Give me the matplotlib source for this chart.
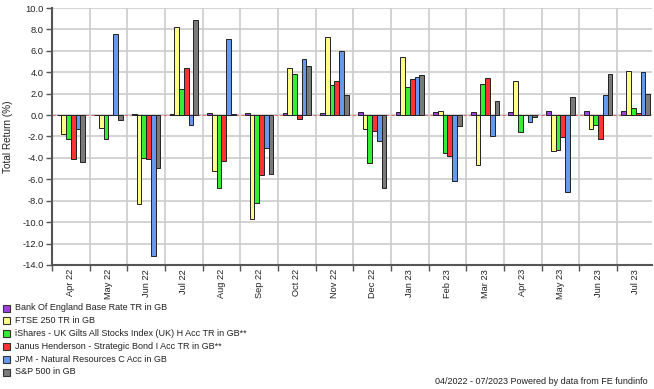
import matplotlib
matplotlib.use("Agg")
import matplotlib.pyplot as plt
from matplotlib.patches import Rectangle
import numpy as np

plt.rcParams['font.family'] = ['Liberation Sans', 'DejaVu Sans']

months = ["Apr 22", "May 22", "Jun 22", "Jul 22", "Aug 22", "Sep 22", "Oct 22", "Nov 22",
          "Dec 22", "Jan 23", "Feb 23", "Mar 23", "Apr 23", "May 23", "Jun 23", "Jul 23"]

series_names = [
    "Bank Of England Base Rate TR in GB",
    "FTSE 250 TR in GB",
    "iShares - UK Gilts All Stocks Index (UK) H Acc TR in GB**",
    "Janus Henderson - Strategic Bond I Acc TR in GB**",
    "JPM - Natural Resources C Acc in GB",
    "S&P 500 in GB",
]

boe     = [0.05, 0.05, 0.10, 0.10, 0.15, 0.15, 0.15, 0.20, 0.25, 0.30, 0.30, 0.30, 0.32, 0.35, 0.38, 0.40]
ftse    = [-1.78, -1.16, -8.3, 8.2, -5.2, -9.7, 4.4, 7.3, -1.3, 5.4, 0.4, -4.7, 3.16, -3.4, -1.28, 4.16]
gilts   = [-2.28, -2.28, -4.0, 2.44, -6.8, -8.2, 3.8, 2.8, -4.5, 2.6, -3.5, 2.9, -1.56, -3.25, -0.88, 0.69]
janus   = [-4.1, -0.03, -4.1, 4.38, -4.25, -5.6, -0.4, 3.2, -1.5, 3.4, -3.8, 3.44, 0.03, -2.06, -2.25, 0.15]
jpm     = [-1.34, 7.6, -13.2, -0.88, 7.1, -3.1, 5.2, 6.0, -2.4, 3.6, -6.2, -1.97, -0.63, -7.2, 1.84, 4.0]
sp500   = [-4.4, -0.44, -4.97, 8.9, 0.1, -5.5, 4.6, 1.9, -6.8, 3.7, -1.0, 1.34, -0.2, 1.69, 3.8, 1.94]

series = [boe, ftse, gilts, janus, jpm, sp500]
colors = ["#a040e0", "#ffff88", "#33ee33", "#ff3333", "#6699ee", "#7a7a7a"]

W, H = 654, 389
fig = plt.figure(figsize=(W / 100, H / 100), dpi=100)
L, R, T, B = 52, 652, 8, 265
ax = fig.add_axes([L / W, 1 - B / H, (R - L) / W, (B - T) / H])

n = len(series)
group = 0.76
bw = group / n
x = np.arange(len(months)) + 0.5
for i, (vals, c) in enumerate(zip(series, colors)):
    ax.bar(x + (i - (n - 1) / 2) * bw, vals, width=bw, color=c,
           edgecolor="#222222", linewidth=0.7, zorder=3)

ax.axhline(0, color="#e07070", linestyle=(0, (3, 2)), linewidth=0.8, zorder=2)

ax.set_ylim(-14, 10)
ax.set_xlim(0, 15.93)
yt = np.arange(-14, 10.01, 2)
ax.set_yticks(yt)
ax.set_yticklabels([f"{v:.1f}" for v in yt], fontsize=6.7, color="#222222")
ax.set_xticks(np.arange(0, 16))
ax.set_xticklabels([])
ax.set_xticks(x, minor=True)
ax.set_xticklabels(months, minor=True, rotation=90, fontsize=6.7, color="#222222")
ax.tick_params(axis="x", which="minor", length=0, pad=3)
ax.tick_params(axis="x", which="major", length=4, width=1, color="#555555", direction="out")
ax.tick_params(axis="y", length=4, width=1, color="#555555", direction="out", pad=2)

ax.grid(True, which="major", color="#cccccc", linewidth=1.2, zorder=0)
ax.set_axisbelow(True)
for s in ["top", "right"]:
    ax.spines[s].set_visible(False)
for s in ["left", "bottom"]:
    ax.spines[s].set_color("#555555")
    ax.spines[s].set_linewidth(1.5)

fig.text(8 / W, 1 - 137 / H, "Total Return (%)", rotation=90, ha="center", va="center",
         fontsize=7.2, color="#222222")

# legend
row0, dy = 308, 12.8
for i, (name, c) in enumerate(zip(series_names, colors)):
    yc = row0 + i * dy
    fig.patches.append(Rectangle((3 / W, 1 - (yc + 3.5) / H), 7 / W, 7 / H,
                                 transform=fig.transFigure, facecolor=c,
                                 edgecolor="#333333", linewidth=0.8))
    fig.text(15 / W, 1 - yc / H, name, ha="left", va="center", fontsize=6.5, color="#222222")

fig.text(648 / W, 1 - 381 / H, "04/2022 - 07/2023 Powered by data from FE fundinfo",
         ha="right", va="center", fontsize=6.5, color="#222222")

fig.savefig("out.png", dpi=100)
